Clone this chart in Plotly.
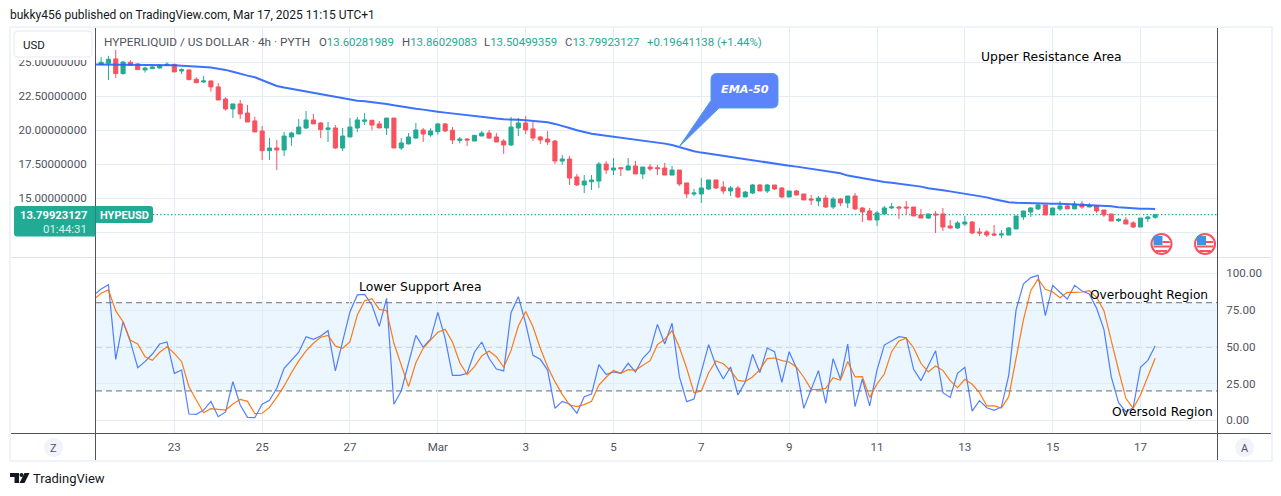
import pandas as pd
import plotly.graph_objects as go

# ---------- data ----------
opens = [24.83,24.93,25.25,24.17,25.00,24.88,24.44,24.53,24.58,24.78,24.85,24.36,24.44,23.75,23.55,23.63,23.19,22.30,21.57,21.94,21.27,20.69,19.95,18.50,18.70,18.55,19.51,19.73,20.17,20.76,20.54,20.07,20.17,18.70,19.51,20.17,20.66,20.74,20.47,20.17,20.90,18.70,19.00,19.43,20.02,
 19.66,19.90,20.47,20.00,19.26,19.36,19.21,19.58,19.80,19.51,19.21,18.92,20.17,20.54,20.10,19.51,19.36,19.21,17.74,17.89,16.57,15.98,16.22,16.27,17.52,17.08,17.25,17.08,17.38,16.79,17.30,17.25,17.23,16.71,17.08,16.13,15.32,15.32,15.69,16.35,15.83,15.54,15.76,15.10,15.39,15.98,15.54,15.98,15.76,15.10,15.54,15.32,14.95,14.80,15.02,14.36,14.95,14.66,
 15.17,14.29,14.07,13.41,13.85,14.29,14.36,14.36,14.36,13.78,13.55,13.85,13.85,12.97,12.82,13.11,13.26,12.53,12.53,12.38,12.30,12.30,12.75,13.63,13.99,14.22,14.51,13.78,14.22,14.44,14.22,14.58,14.36,14.44,14.14,13.85,13.36,13.41,13.19,12.89,13.50,13.60]
highs = [25.37,25.47,25.91,25.10,25.15,24.93,24.68,24.71,24.88,25.00,24.88,24.56,24.44,23.90,24.00,23.63,23.48,22.43,21.94,22.23,21.86,21.00,20.32,19.43,19.29,19.88,19.90,20.83,21.42,21.20,20.61,20.61,20.39,20.17,20.90,20.98,21.27,20.76,20.69,20.90,20.90,19.43,19.80,20.54,20.17,
 20.15,20.54,20.54,20.24,19.51,19.43,19.65,19.95,20.02,19.80,19.36,20.98,20.90,21.05,20.61,19.58,19.95,19.29,18.18,18.11,16.79,16.71,16.71,17.67,17.74,17.96,17.30,17.96,17.74,17.30,17.52,17.45,17.60,17.38,17.08,16.13,15.69,16.49,16.35,16.35,16.27,15.91,15.91,15.54,16.05,16.05,16.05,15.98,15.83,15.54,15.61,15.32,15.24,15.17,15.24,15.10,15.02,15.17,
 15.39,14.36,14.29,14.07,14.44,14.66,14.44,14.80,14.36,14.22,13.85,14.07,14.29,13.41,13.33,13.70,13.33,12.82,12.67,13.04,12.67,12.89,13.70,14.07,14.36,14.58,14.51,14.29,14.80,14.58,14.80,14.80,14.66,14.44,14.14,13.85,13.55,13.63,13.33,13.55,13.70,13.86]
lows = [24.80,23.70,23.85,24.09,24.75,24.44,24.24,24.51,24.53,24.73,24.29,24.14,23.70,23.48,23.48,22.84,22.23,21.45,20.90,20.83,20.61,19.88,17.82,17.82,17.08,18.11,18.85,19.73,20.10,20.47,19.43,19.14,18.63,18.48,19.51,19.88,20.39,20.02,20.17,19.66,18.70,18.55,18.97,19.36,19.14,
 19.53,19.68,19.88,19.00,19.04,18.85,19.21,19.58,19.36,19.14,18.26,18.85,19.58,19.73,19.21,19.00,18.92,17.52,17.45,15.98,15.91,15.39,15.61,15.76,16.79,16.71,16.64,17.08,16.79,16.42,17.01,16.71,16.71,16.71,15.91,15.02,15.17,14.66,15.61,15.69,15.32,15.17,15.02,15.10,15.32,15.54,15.39,15.61,15.02,15.10,15.24,14.88,14.51,14.43,14.29,14.21,14.43,14.29,
 14.14,13.26,13.41,12.97,13.78,14.22,13.48,13.78,13.70,13.55,13.48,12.45,12.60,12.75,12.75,12.97,12.38,12.23,12.16,12.23,12.08,12.30,12.75,13.41,13.63,14.14,13.78,13.78,14.07,14.22,14.22,14.22,14.36,13.92,13.63,13.33,13.26,13.11,12.82,12.89,13.26,13.50]
closes = [25.00,25.22,24.17,25.02,24.78,24.46,24.58,24.66,24.78,24.85,24.29,24.46,23.72,23.50,23.63,23.19,22.23,21.57,21.94,21.20,20.61,19.88,18.50,18.70,18.55,19.58,19.80,20.24,20.76,20.47,20.05,20.17,18.70,19.58,20.24,20.76,20.76,20.39,20.17,20.90,18.70,19.07,19.51,20.02,19.73,
 19.95,20.47,19.95,19.29,19.36,19.29,19.63,19.80,19.43,19.14,18.92,20.24,20.54,20.02,19.43,19.29,19.14,17.74,17.89,16.49,15.98,16.27,16.35,17.52,17.08,17.23,17.18,17.38,16.79,17.30,17.16,17.18,16.71,17.08,16.05,15.32,15.39,15.76,16.35,15.76,15.54,15.76,15.10,15.46,15.98,15.54,15.98,15.69,15.10,15.54,15.24,14.88,14.88,15.02,14.36,14.95,14.66,15.17,
 14.22,14.00,13.41,13.92,14.29,14.36,14.29,14.29,13.70,13.55,13.85,13.78,12.89,12.82,13.19,13.26,12.45,12.45,12.30,12.30,12.38,12.82,13.70,14.07,14.29,14.51,13.78,14.29,14.44,14.22,14.58,14.36,14.44,14.07,13.78,13.33,13.46,13.11,12.89,13.55,13.63,13.80]
ema50 = [24.83,24.83,24.83,24.83,24.83,24.83,24.83,24.83,24.83,24.83,24.8,24.78,24.75,24.73,24.71,24.66,24.61,24.53,24.44,24.31,24.14,24.02,23.9,23.7,23.46,23.26,23.14,23.04,22.94,22.84,22.77,22.67,22.55,22.43,22.33,22.25,22.18,22.13,22.08,22.03,21.94,21.84,21.74,21.67,21.59,21.52,21.42,21.37,21.3,21.23,21.18,21.13,21.05,21,20.93,20.86,20.81,20.81,20.78,20.74,20.69,20.64,20.59,20.47,20.34,20.17,20,19.85,19.75,19.68,19.61,19.53,19.46,19.39,19.31,19.24,19.17,19.09,19.02,18.92,18.77,18.6,18.46,18.36,18.28,18.19,18.09,17.99,17.92,17.84,17.77,17.7,17.62,17.55,17.48,17.4,17.33,17.25,17.18,17.08,17.01,16.91,16.84,16.67,16.57,16.47,16.37,16.27,16.2,16.15,16.08,16,15.93,15.86,15.74,15.69,15.59,15.51,15.42,15.34,15.27,15.17,15.07,14.93,14.8,14.71,14.68,14.66,14.63,14.61,14.61,14.61,14.61,14.58,14.58,14.56,14.53,14.51,14.46,14.41,14.34,14.29,14.26,14.24,14.24,14.22]
stoch_k = [85.3,89.3,92.3,41.5,67.1,53.5,35.8,39.9,45.1,51.9,53.3,32,34.2,4.3,4.1,7,12.9,2.5,5.7,26.3,10.4,2,1.8,10.9,13.6,21.8,35.4,40.6,46.3,56.9,55.1,57.4,61,33.6,54.6,73.9,85.3,85.7,78.5,63.9,83,10.9,20,38.8,57.8,49.7,55.3,73.5,55.8,30.6,30.6,32,46.3,53.3,42.2,34.9,33.6,73.2,84.1,66,44.2,41.5,34.2,8.2,12.9,11.1,4.8,16.1,17.9,37.9,31.1,32.9,32,38.8,32.9,42.2,47.4,65.3,51.9,66,29.7,12.7,14.5,33.1,51.5,37.2,28.1,36.3,17.2,26.1,44.9,32.4,49.2,46.7,25.9,46.7,35.4,8.2,21.1,33.8,11.6,42,27.9,51.9,9.3,28.1,9.8,34.2,51.2,54,56.9,56.2,34.7,27,37.2,47.4,18.8,15.6,32,36.1,6.3,13.4,8.6,6.8,9.1,30.8,75.1,92.7,97.1,98.6,71.2,91.8,87.1,82.5,91.8,88,85.9,76.2,61.9,29.7,12,5.9,8.6,36.1,40.8,50.6]
stoch_d = [82.3,86.4,88.7,74.4,67.1,54.4,51.9,43.3,40.8,46.3,50.1,45.6,39.9,22.9,13.8,5.2,7.9,7.5,7.0,11.1,14.3,12.9,4.5,4.8,8.8,15.6,23.4,32.4,40.4,47.2,52.4,56.5,57.8,50.6,49.0,53.5,71.7,81.4,82.8,75.5,74.6,52.4,38.3,22.9,39.2,49.0,54.6,59.9,61.9,53.3,39.2,31.1,36.5,43.8,47.2,43.3,36.1,47.4,64.2,74.1,63.7,49.0,36.5,26.3,17.7,10.4,9.3,10.7,12.9,24.0,29.3,34.0,32.0,34.5,34.2,37.6,40.6,51.5,55.1,61.0,49.7,35.4,18.8,20.0,32.4,40.4,38.5,33.8,27.2,26.5,29.5,34.5,42.0,42.4,40.6,39.7,36.1,29.3,21.1,20.9,21.8,29.0,27.2,40.1,29.5,29.7,15.6,24.7,31.5,46.7,54.0,55.8,49.4,38.8,32.9,37.0,34.0,27.0,22.2,27.9,24.5,18.8,9.8,9.8,8.4,16.1,43.3,68.3,88.2,96.1,89.1,87.3,83.4,87.1,87.1,87.3,88.2,83.7,74.6,53.5,34.2,15.0,8.2,17.2,29.3,42.2]
tick_dates = ["2025-02-23","2025-02-25","2025-02-27","2025-03-01","2025-03-03","2025-03-05","2025-03-07","2025-03-09","2025-03-11","2025-03-13","2025-03-15","2025-03-17"]
tick_labels = ["23","25","27","Mar","3","5","7","9","11","13","15","17"]
price_ticks = [12.5,15,17.5,20,22.5,25]
price_labels = ["","15.00000000","17.50000000","20.00000000","22.50000000","25.00000000"]
stoch_ticks = [0,25,50,75,100]
stoch_labels = ["0.00","25.00","50.00","75.00","100.00"]

times = pd.date_range("2025-02-21 04:00", periods=146, freq="4h")

W, H = 1281, 496
def px(x): return x / W
def py(y): return 1 - y / H

TEAL = "#22ab94"; RED = "#f7525f"; GRID = "#e4ecf4"; AXIS = "#50535e"; TXT = "#50535e"
BLUE = "#2962ff"; ORANGE = "#ff6d00"
SANS = "Roboto"; NOTE = "DejaVu Sans"

fig = go.Figure()
fig.add_trace(go.Candlestick(x=times[1:], open=opens, high=highs, low=lows, close=closes, xaxis="x", yaxis="y",
    increasing=dict(line=dict(color=TEAL, width=1), fillcolor=TEAL),
    decreasing=dict(line=dict(color=RED, width=1), fillcolor=RED), whiskerwidth=0, showlegend=False))
fig.add_trace(go.Scatter(x=times, y=ema50, mode="lines", line=dict(color=BLUE, width=2), opacity=0.9, xaxis="x", yaxis="y", showlegend=False))
fig.add_trace(go.Scatter(x=times, y=stoch_k, mode="lines", line=dict(color=BLUE, width=1.2), opacity=0.8, xaxis="x2", yaxis="y2", showlegend=False))
fig.add_trace(go.Scatter(x=times, y=stoch_d, mode="lines", line=dict(color=ORANGE, width=1.2), opacity=0.9, xaxis="x2", yaxis="y2", showlegend=False))

xrange = ["2025-02-21 05:12", "2025-03-18 17:48"]
xdom = [px(96), px(1217)]
common_x = dict(range=xrange, domain=xdom, type="date", tickmode="array", tickvals=tick_dates, showgrid=True, gridcolor=GRID, gridwidth=1, zeroline=False)

def line(x0,y0,x1,y1,c,w=1):
    return dict(type="line", xref="paper", yref="paper", x0=px(x0), x1=px(x1), y0=py(y0), y1=py(y1), line=dict(color=c, width=w), layer="above")
def rect(x0,y0,x1,y1,fill,lc=None,w=0):
    return dict(type="rect", xref="paper", yref="paper", x0=px(x0), x1=px(x1), y0=py(y0), y1=py(y1), fillcolor=fill, line=dict(color=lc or fill, width=w), layer="above")
def path(points, fill, lc=None, w=0):
    return dict(type="path", xref="paper", yref="paper", path=points, fillcolor=fill, line=dict(color=lc or fill, width=w), layer="above")
def circle(cx,cy,r,fill,lc=None,w=0):
    return dict(type="circle", xref="paper", yref="paper", x0=px(cx-r), x1=px(cx+r), y0=py(cy+r), y1=py(cy-r), fillcolor=fill, line=dict(color=lc or fill, width=w), layer="above")
def poly(pts):
    return "M " + " L ".join(f"{px(a):.5f},{py(b):.5f}" for a,b in pts) + " Z"
def rrect(x0,y0,x1,y1,rl,rr):
    return (f"M {px(x0+rl):.5f},{py(y0):.5f} L {px(x1-rr):.5f},{py(y0):.5f} Q {px(x1):.5f},{py(y0):.5f} {px(x1):.5f},{py(y0+rr):.5f} "
            f"L {px(x1):.5f},{py(y1-rr):.5f} Q {px(x1):.5f},{py(y1):.5f} {px(x1-rr):.5f},{py(y1):.5f} "
            f"L {px(x0+rl):.5f},{py(y1):.5f} Q {px(x0):.5f},{py(y1):.5f} {px(x0):.5f},{py(y1-rl):.5f} "
            f"L {px(x0):.5f},{py(y0+rl):.5f} Q {px(x0):.5f},{py(y0):.5f} {px(x0+rl):.5f},{py(y0):.5f} Z")

shapes = []
# stochastic band and levels
shapes.append(dict(type="rect", xref="x2 domain", yref="y2", x0=0, x1=1, y0=20, y1=80, fillcolor="rgba(33,150,243,0.09)", line=dict(width=0), layer="below"))
for lv, c in ((80,"#6b6e7a"),(50,"#9598a1"),(20,"#6b6e7a")):
    shapes.append(dict(type="line", xref="x2 domain", yref="y2", x0=0, x1=1, y0=lv, y1=lv, line=dict(color=c, width=1, dash="6px,4px"), layer="below"))
# last price dotted line
shapes.append(dict(type="line", xref="paper", yref="y", x0=px(153), x1=px(1217), y0=closes[-1], y1=closes[-1], line=dict(color=TEAL, width=1.4, dash="1.4px,2.2px"), layer="below"))
# frame
FR = "#f0f3fa"
shapes += [rect(9,26,1273,28,FR), rect(9,460,1273,462,FR), rect(9,26,11,462,FR), rect(1271,26,1273,462,FR)]
shapes += [line(11,257.5,1271,257.5,"#e0e3eb")]
shapes += [line(95.5,28,95.5,460,AXIS), line(1217.5,28,1217.5,460,AXIS), line(11,433.5,1271,433.5,AXIS)]
# top-left white strip hiding the header of the scale, USD button
shapes.append(rect(12,28,95,60,"#ffffff"))
shapes.append(path(rrect(14,31,92,57,4,4),"#ffffff","#e6e9f0",1))
# last price tag
shapes.append(path(rrect(14,206,95.5,236.5,3,0),TEAL))
shapes.append(path(rrect(96,206,153,223,0,3),TEAL))
# callout
cx0,cy0,cx1,cy1 = 711,73.5,778,108
r=6
callout = (f"M {px(cx0+r):.5f},{py(cy0):.5f} L {px(cx1-r):.5f},{py(cy0):.5f} Q {px(cx1):.5f},{py(cy0):.5f} {px(cx1):.5f},{py(cy0+r):.5f} "
           f"L {px(cx1):.5f},{py(cy1-r):.5f} Q {px(cx1):.5f},{py(cy1):.5f} {px(cx1-r):.5f},{py(cy1):.5f} "
           f"L {px(719):.5f},{py(cy1):.5f} L {px(679):.5f},{py(147):.5f} L {px(cx0):.5f},{py(100.5):.5f} "
           f"L {px(cx0):.5f},{py(cy0+r):.5f} Q {px(cx0):.5f},{py(cy0):.5f} {px(cx0+r):.5f},{py(cy0):.5f} Z")
shapes.append(path(callout,"#5c85fb","#4fa3c9",1))
# flags
for fx in (1161.5,1205):
    cy=244
    shapes.append(circle(fx,cy,10,"#ffffff",RED,2))
    shapes.append(path(poly([(fx-8,cy+1.5),(fx+8.5,cy+1.5),(fx+8.5,cy+3.5),(fx-8,cy+3.5)]),RED))
    shapes.append(path(poly([(fx-6,cy+6),(fx+6,cy+6),(fx+5,cy+8),(fx-5,cy+8)]),RED))
    shapes.append(path(poly([(fx+1,cy-3),(fx+8,cy-3),(fx+8.5,cy-1),(fx+1,cy-1)]),RED))
    shapes.append(rect(fx-8,cy-8,fx+1,cy+1,"#3d93ea"))
# bottom buttons
shapes.append(circle(53.5,447.5,9.5,"#f0f3fa"))
shapes.append(circle(1244.5,447.5,9.5,"#f0f3fa"))
# TradingView logo
shapes.append(path(poly([(10,473),(19,473),(19,483),(14.5,483),(14.5,477),(10,477)]),"#131722"))
shapes.append(circle(21.5,475,2,"#131722"))
shapes.append(path(poly([(24.5,473),(29.5,473),(24.5,483),(19.5,483)]),"#131722"))

def note(x, y, text, size=12, color="#000000", anchor="left", family=NOTE):
    return dict(xref="paper", yref="paper", x=px(x), y=py(y), text=text, showarrow=False, xanchor=anchor, yanchor="middle",
                borderpad=0, borderwidth=0, font=dict(family=family, size=size, color=color))
def val(s): return f'<span style="color:{TEAL}">{s}</span>'
annots = [
    note(10,15,"bukky456 published on TradingView.com, Mar 17, 2025 11:15 UTC+1",12,"#131722",family=SANS),
    note(23,44.5,"USD",11.5,"#131722",family=SANS),
    note(104,42,"HYPERLIQUID / US DOLLAR · 4h · PYTH",11.8,TXT,family=SANS),
    note(319,42,"O"+val("13.60281989"),11.4,TXT,family=SANS),
    note(402,42,"H"+val("13.86029083"),11.4,TXT,family=SANS),
    note(484,42,"L"+val("13.50499359"),11.4,TXT,family=SANS),
    note(565,42,"C"+val("13.79923127"),11.4,TXT,family=SANS),
    note(647,42,val("+0.19641138 (+1.44%)"),11.4,TXT,family=SANS),
    note(981,56,"Upper Resistance Area",12.4),
    note(359,286,"Lower Support Area",12.4),
    note(1090,295,"Overbought Region",12.2),
    note(1112,412,"Oversold Region",12.3),
    note(87,215,"<b>13.79923127</b>",11.2,"#ffffff","right",SANS),
    note(87,229,"01:44:31",11.4,"#d9f2ee","right",SANS),
    note(100,215,"<b>HYPEUSD</b>",11,"#ffffff",family=SANS),
    note(745,90,"<b><i>EMA-50</i></b>",11.2,"#ffffff","center",NOTE),
    note(53.5,448,"Z",11,TXT,"center",SANS),
    note(1244.5,448,"A",11,TXT,"center",SANS),
    note(33,478,"TradingView",13,"#131722",family=SANS),
]
tf = dict(family=SANS, size=11.6, color=TXT)
fig.update_layout(
    width=W, height=H, margin=dict(l=0,r=0,t=0,b=0), autosize=False, paper_bgcolor="#ffffff", plot_bgcolor="#ffffff",
    hovermode=False, showlegend=False, font=dict(family=SANS, size=12, color=TXT), shapes=shapes, annotations=annots,
    boxgap=0.2, boxgroupgap=0.3,
    xaxis=dict(common_x, anchor="y", showticklabels=False, ticks="", rangeslider=dict(visible=False)),
    xaxis2=dict(common_x, anchor="y2", matches="x", showticklabels=True, ticktext=tick_labels, ticks="outside", ticklen=3, tickcolor="rgba(0,0,0,0)", tickfont=tf),
    yaxis=dict(domain=[py(257.5),py(28)], range=[10.65,27.52], anchor="x", side="left", tickmode="array", tickvals=price_ticks,
               ticktext=price_labels, showgrid=True, gridcolor=GRID, zeroline=False, ticks="outside", ticklen=6, tickcolor="rgba(0,0,0,0)", tickfont=tf),
    yaxis2=dict(domain=[py(433),py(258)], range=[-8.62,110.43], anchor="x2", side="right", tickmode="array", tickvals=stoch_ticks,
               ticktext=stoch_labels, showgrid=True, gridcolor=GRID, zeroline=False, ticks="outside", ticklen=6, tickcolor="rgba(0,0,0,0)", tickfont=tf),
)
fig.write_html("out.html", config=dict(displayModeBar=False), post_script="document.body.style.margin='0';")
